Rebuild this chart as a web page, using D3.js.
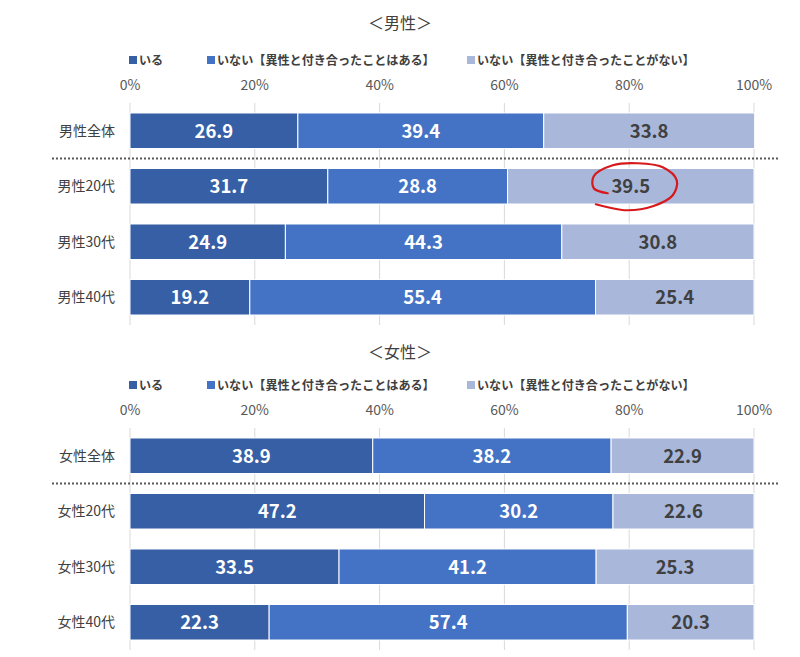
<!DOCTYPE html>
<html><head><meta charset="utf-8">
<script src="https://cdn.jsdelivr.net/npm/d3@7"></script>
<style>body{margin:0;background:#fff}svg{display:block;font-family:"Noto Sans CJK JP","Noto Sans",sans-serif}</style>
</head><body><svg id="c" width="800" height="657"></svg>
<script>
const seriesNames = ["いる","いない【異性と付き合ったことはある】","いない【異性と付き合ったことがない】"];
const maleCats = ["男性全体","男性20代","男性30代","男性40代"];
const maleIru = [26.9,31.7,24.9,19.2];
const maleAru = [39.4,28.8,44.3,55.4];
const maleNai = [33.8,39.5,30.8,25.4];
const femaleCats = ["女性全体","女性20代","女性30代","女性40代"];
const femaleIru = [38.9,47.2,33.5,22.3];
const femaleAru = [38.2,30.2,41.2,57.4];
const femaleNai = [22.9,22.6,25.3,20.3];
const tickVals = [0,20,40,60,80,100];
const colors = ["#365FA6","#4473C5","#A9B7DB"];
const labelColors = ["#fff","#fff","#404040"];

const svg = d3.select("#c");
const x = d3.scaleLinear().domain([0,100]).range([130,754]);

function panel(title, cats, vals, top, titleDy, highlight){
  const g = svg.append("g");
  g.append("text").attr("x",400).attr("y",top+titleDy).attr("text-anchor","middle")
    .attr("font-size",16).attr("fill","#404040").text("＜"+title+"＞");
  const lx=[129,207,467];
  seriesNames.forEach((n,i)=>{
    g.append("rect").attr("x",lx[i]).attr("y",top+56).attr("width",8).attr("height",8).attr("fill",colors[i]);
    g.append("text").attr("x",lx[i]+10).attr("y",top+65).attr("font-size",12.1).attr("font-weight","bold")
      .attr("fill","#404040").text(n);
  });
  tickVals.forEach(t=>{
    g.append("text").attr("x",x(t)).attr("y",top+90).attr("text-anchor","middle")
      .attr("font-size",14).attr("fill","#595959").text(t+"%");
  });
  const y = d3.scaleBand().domain(cats).range([top+103,top+325]).paddingInner(0.36).paddingOuter(0.18);
  g.append("g").selectAll("line").data(tickVals).join("line")
    .attr("x1",d=>x(d)).attr("x2",d=>x(d)).attr("y1",top+103).attr("y2",top+325)
    .attr("stroke","#d9d9d9").attr("stroke-width",1);
  const sepY = (y(cats[0])+y.bandwidth()+y(cats[1]))/2;
  g.append("line").attr("x1",52).attr("x2",780).attr("y1",sepY).attr("y2",sepY)
    .attr("stroke","#595959").attr("stroke-width",2).attr("stroke-dasharray","2,2");
  cats.forEach((c,ci)=>{
    let cum=0;
    vals.forEach((arr,si)=>{
      const v=arr[ci];
      g.append("rect").attr("x",x(cum)).attr("y",y(c)).attr("width",x(cum+v)-x(cum)).attr("height",y.bandwidth())
        .attr("fill",colors[si]).attr("stroke","#fff").attr("stroke-width",1);
      g.append("text").attr("x",x(cum+v/2)).attr("y",y(c)+y.bandwidth()/2+7).attr("text-anchor","middle")
        .attr("font-size",18.5).attr("font-weight","bold").attr("fill",labelColors[si]).text(v.toFixed(1));
      cum+=v;
    });
    g.append("text").attr("x",115).attr("y",y(c)+y.bandwidth()/2+5).attr("text-anchor","end")
      .attr("font-size",14).attr("fill","#404040").text(c);
  });
  if(highlight){
    const [ci,si]=highlight;
    let cum=0; for(let k=0;k<si;k++) cum+=vals[k][ci];
    const cx=x(cum+vals[si][ci]/2)+2, cy=y(cats[ci])+y.bandwidth()/2;
    const pts=[[-25,7],[-39,2],[-39,-10],[-20,-21],[5,-23],[30,-19],[44,-6],[40,9],[20,20],[-5,24],[-25,21],[-37,18]]
      .map(p=>[cx+p[0],cy+p[1]]);
    g.append("path").attr("d",d3.line().curve(d3.curveCatmullRom)(pts))
      .attr("fill","none").attr("stroke","#D7191C").attr("stroke-width",2.2).attr("stroke-linecap","round");
  }
}
panel("男性", maleCats, [maleIru,maleAru,maleNai], 0, 29, [1,2]);
panel("女性", femaleCats, [femaleIru,femaleAru,femaleNai], 325, 33, null);
</script></body></html>
